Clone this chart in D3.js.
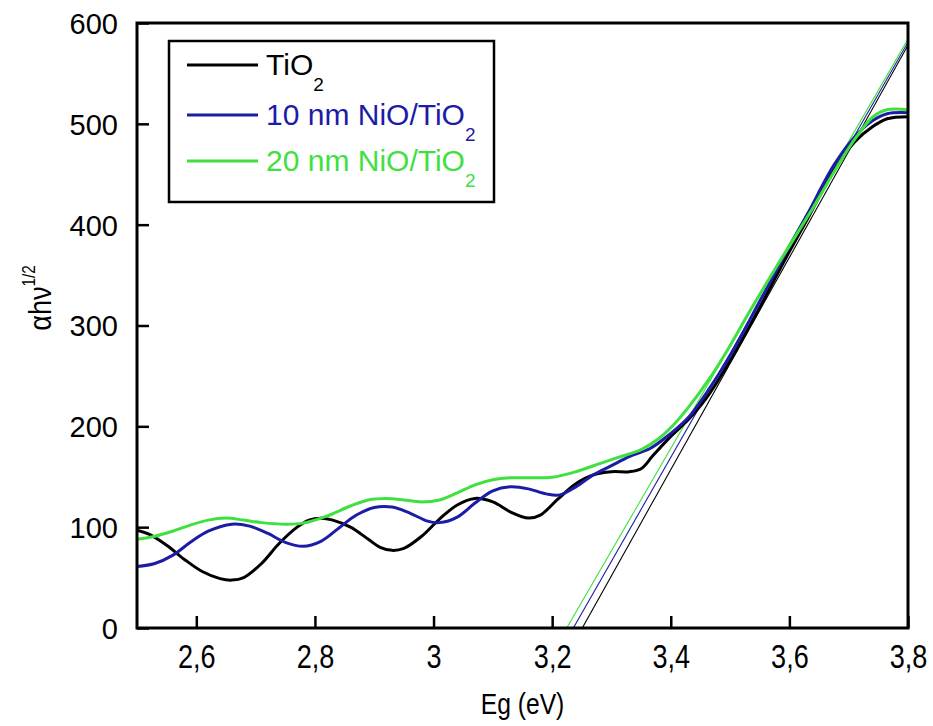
<!DOCTYPE html>
<html>
<head>
<meta charset="utf-8">
<script src="https://cdn.jsdelivr.net/npm/d3@7"></script>
<style>
  body { margin: 0; background: #fff; }
  svg text { font-family: "Liberation Sans", Arial, sans-serif; }
</style>
</head>
<body>
<div id="chart"></div>
<script>
// Data
const tio2X = [2.50,2.52,2.55,2.58,2.61,2.64,2.66,2.68,2.71,2.74,2.77,2.79,2.81,2.83,2.86,2.89,2.91,2.93,2.95,2.98,3.01,3.04,3.07,3.10,3.13,3.16,3.18,3.21,3.24,3.27,3.30,3.33,3.35,3.37,3.40,3.43,3.46,3.50,3.55,3.595,3.63,3.675,3.71,3.74,3.765,3.80]
const tio2Y = [97,93,82,68,56,49,47.5,50,64,84,100,107,108.8,107,100,88,80,77,79,91,108,122,128.5,125,115,109,112,128,143,152,155,155,158,171,190,207,228,265,318,368,405,454,482,497,505,507]

const nio10X = [2.50,2.53,2.56,2.59,2.62,2.66,2.69,2.72,2.75,2.78,2.81,2.84,2.87,2.90,2.93,2.96,2.99,3.01,3.04,3.07,3.10,3.13,3.16,3.19,3.213,3.24,3.27,3.30,3.33,3.365,3.40,3.43,3.46,3.50,3.55,3.595,3.63,3.675,3.71,3.74,3.765,3.80]
const nio10Y = [61,64,72,85,96,103,101,94,85,81,86,99,112,119.5,120,114,106,104.5,110,124,136,140,138,133,132,140,152,161,170,178,193,209,233,270,324,373,410,459,487,503,510,511]

const nio20X = [2.50,2.53,2.56,2.59,2.62,2.65,2.68,2.71,2.75,2.78,2.82,2.86,2.89,2.92,2.95,2.98,3.01,3.04,3.07,3.10,3.13,3.16,3.20,3.24,3.28,3.31,3.35,3.38,3.404,3.43,3.466,3.50,3.528,3.578,3.635,3.68,3.713,3.741,3.764,3.80]
const nio20Y = [88,91,96,102,107,109,107,104.5,103,104,111,121,127,128.5,127,125,127,134,142,147,149,149,149.5,155,163,169,177,188,201,219,248,280,309,358,412,457,487,507,514,514]

// tangent lines: [x-intercept, value at 3.8]
const tangentX = [[3.2508, 3.8], [3.2357, 3.8], [3.2245, 3.8]]
const tangentY = [[0, 578], [0, 581], [0, 584]]

const seriesNames = ["TiO", "10 nm NiO/TiO", "20 nm NiO/TiO"]
const seriesColors = ["#000000", "#1c1ca6", "#3fe03f"]

const xTicks = [2.6, 2.8, 3.0, 3.2, 3.4, 3.6, 3.8]
const yTicks = [0, 100, 200, 300, 400, 500, 600]

const width = 933
const height = 726
const margin = { top: 23, right: 25, bottom: 98, left: 137 }

const svg = d3.select("#chart").append("svg")
    .attr("width", width)
    .attr("height", height)

const x = d3.scaleLinear()
    .domain([2.5, 3.8])
    .range([margin.left, width - margin.right])

const y = d3.scaleLinear()
    .domain([0, 600])
    .range([height - margin.bottom, margin.top])

svg.append("clipPath").attr("id", "plotClip")
  .append("rect")
    .attr("x", x(2.5)).attr("y", y(600))
    .attr("width", x(3.8) - x(2.5)).attr("height", y(0) - y(600))

// tangent lines
const tangents = tangentX.map((xs, i) => xs.map((v, j) => [v, tangentY[i][j]]))
svg.append("g").attr("clip-path", "url(#plotClip)")
  .selectAll("line")
  .data(tangents)
  .join("line")
    .attr("x1", d => x(d[0][0]))
    .attr("y1", d => y(d[0][1]))
    .attr("x2", d => x(d[1][0]))
    .attr("y2", d => y(d[1][1]))
    .attr("stroke", (d, i) => seriesColors[i])
    .attr("stroke-width", 1.1)

// curves
const series = [
  tio2X.map((v, i) => [v, tio2Y[i]]),
  nio10X.map((v, i) => [v, nio10Y[i]]),
  nio20X.map((v, i) => [v, nio20Y[i]])
]

const line = d3.line()
    .x(d => x(d[0]))
    .y(d => y(d[1]))
    .curve(d3.curveCatmullRom.alpha(0.5))

svg.append("g").attr("clip-path", "url(#plotClip)")
  .selectAll("path")
  .data(series)
  .join("path")
    .attr("d", line)
    .attr("fill", "none")
    .attr("stroke", (d, i) => seriesColors[i])
    .attr("stroke-width", 3)
    .attr("stroke-linejoin", "round")

// axes, ticks pointing inward
const xAxis = svg.append("g")
    .attr("transform", `translate(0,${y(0)})`)
    .call(d3.axisBottom(x).tickValues(xTicks).tickSize(-12).tickPadding(0)
      .tickFormat(d => String(d).replace(".", ",")))
xAxis.select(".domain").remove()
xAxis.selectAll(".tick line").attr("stroke", "#000").attr("stroke-width", 2.5)
// the x labels are set in a narrow face: squeeze them sideways
xAxis.selectAll(".tick text")
    .attr("y", 40)
    .attr("dy", 0)
    .attr("transform", "scale(0.82,1)")
    .attr("font-size", 33)
    .attr("fill", "#000")

const yAxis = svg.append("g")
    .attr("transform", `translate(${x(2.5)},0)`)
    .call(d3.axisLeft(y).tickValues(yTicks).tickSize(-12).tickPadding(19))
yAxis.select(".domain").remove()
yAxis.selectAll(".tick line").attr("stroke", "#000").attr("stroke-width", 2.5)
yAxis.selectAll(".tick text")
    .attr("font-size", 29)
    .attr("dy", "0.36em")
    .attr("fill", "#000")

// frame
svg.append("rect")
    .attr("x", x(2.5)).attr("y", y(600))
    .attr("width", x(3.8) - x(2.5)).attr("height", y(0) - y(600))
    .attr("fill", "none")
    .attr("stroke", "#000")
    .attr("stroke-width", 3)

// axis titles
svg.append("text")
    .attr("transform", `translate(${(x(2.5) + x(3.8)) / 2},714) scale(0.85,1)`)
    .attr("text-anchor", "middle")
    .attr("font-size", 29)
    .text("Eg (eV)")

const yTitle = svg.append("text")
    .attr("transform", "translate(51,298) rotate(-90) scale(0.85,1)")
    .attr("text-anchor", "middle")
    .attr("font-size", 32)
yTitle.append("tspan").text("\u03b1h\u03bd")
yTitle.append("tspan").attr("font-size", 18).attr("dy", -16).text("1/2")

// legend
const legend = svg.append("g")
legend.append("rect")
    .attr("x", 169).attr("y", 41)
    .attr("width", 325).attr("height", 161)
    .attr("fill", "#fff")
    .attr("stroke", "#000")
    .attr("stroke-width", 2.5)

const rowY = [65, 115, 161]
const rows = legend.selectAll("g.row")
  .data(seriesNames)
  .join("g")
    .attr("class", "row")
    .attr("transform", (d, i) => `translate(0,${rowY[i]})`)

rows.append("line")
    .attr("x1", 187).attr("x2", 258)
    .attr("stroke", (d, i) => seriesColors[i])
    .attr("stroke-width", 3)

const labels = rows.append("text")
    .attr("x", 266)
    .attr("y", 10)
    .attr("font-size", 30)
    .attr("fill", (d, i) => seriesColors[i])
labels.append("tspan").text(d => d)
labels.append("tspan").attr("font-size", 19).attr("dy", 16).text("2")
</script>
</body>
</html>
